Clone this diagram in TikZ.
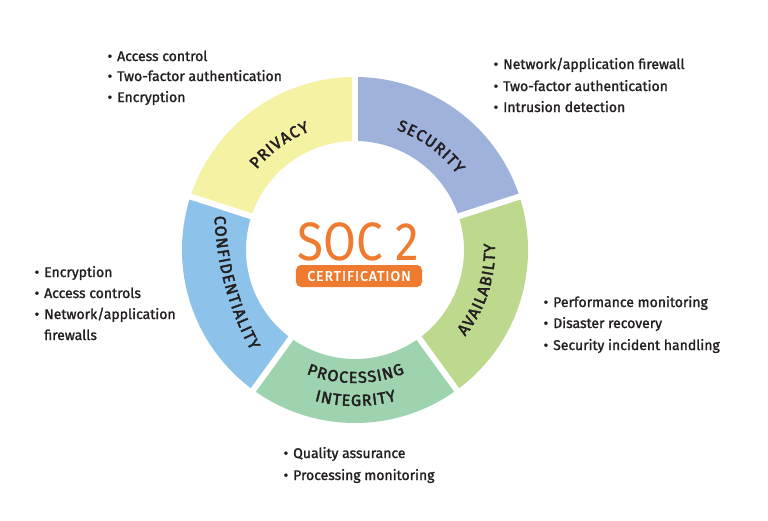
\documentclass[tikz,border=0pt]{standalone}
\usepackage{fontspec}
\setmainfont{Fira Sans}
\newfontfamily\bodyf{Fira Sans}[RawFeature={embolden=1.5}]
\newfontfamily\lblf{Fira Sans}[RawFeature={embolden=2.5}]
\newfontfamily\certf{Fira Sans}[RawFeature={embolden=2},LetterSpace=7]
\usetikzlibrary{decorations.text}
\definecolor{cpriv}{RGB}{246,242,164}
\definecolor{csec}{RGB}{159,178,220}
\definecolor{cavail}{RGB}{188,217,142}
\definecolor{cproc}{RGB}{157,211,175}
\definecolor{cconf}{RGB}{141,195,234}
\definecolor{corange}{RGB}{238,123,47}
\definecolor{ctxt}{RGB}{35,31,32}
\newcommand{\itemfont}{\bodyf\fontsize{14}{16}\selectfont}
\newcommand{\lblfont}{\lblf\fontsize{16}{18}\selectfont}
\newcommand{\bul}{\llap{\textbullet\hspace{5pt}}}
\tikzset{
  bitem/.style={anchor=base west, inner sep=0pt, font=\itemfont, text=ctxt},
  gapline/.style={draw=white, line width=6pt},
  lbl/.style={decorate, decoration={text along path, text align=center, text={|\color{ctxt}\lblfont\kern1.1pt|#1}}}
}
\begin{document}
\begin{tikzpicture}[x=1pt,y=1pt]
\useasboundingbox[fill=white] (-355,-270) rectangle (413,250);
\def\Ro{173}\def\Ri{109}
% segments
\fill[csec] (90:\Ro) arc[start angle=90,end angle=18,radius=\Ro] -- (18:\Ri) arc[start angle=18,end angle=90,radius=\Ri] -- cycle;
\fill[cavail] (18:\Ro) arc[start angle=18,end angle=-54,radius=\Ro] -- (-54:\Ri) arc[start angle=-54,end angle=18,radius=\Ri] -- cycle;
\fill[cproc] (-54:\Ro) arc[start angle=-54,end angle=-126,radius=\Ro] -- (-126:\Ri) arc[start angle=-126,end angle=-54,radius=\Ri] -- cycle;
\fill[cconf] (-126:\Ro) arc[start angle=-126,end angle=-198,radius=\Ro] -- (-198:\Ri) arc[start angle=-198,end angle=-126,radius=\Ri] -- cycle;
\fill[cpriv] (162:\Ro) arc[start angle=162,end angle=90,radius=\Ro] -- (90:\Ri) arc[start angle=90,end angle=162,radius=\Ri] -- cycle;
% gaps
\foreach \a in {90,18,-54,-126,162}{
  \draw[gapline] (\a:\Ri-4) -- (\a:\Ro+4);
}
% segment labels
\path[lbl=PRIVACY] (156:127) arc[start angle=156,end angle=96,radius=127];
\path[lbl=SECURITY] (84:127) arc[start angle=84,end angle=24,radius=127];
\path[lbl=AVAILABILTY] (-58:140) arc[start angle=-58,end angle=22,radius=140];
\path[lbl=CONFIDENTIALITY, shift={(15:165)}] (165:300) arc[start angle=165,end angle=225,radius=300];
\path[lbl=PROCESSING] (-135:133) arc[start angle=-135,end angle=-45,radius=133];
\path[lbl=INTEGRITY] (-130:156) arc[start angle=-130,end angle=-50,radius=156];
% center
\node[inner sep=0pt, text=corange, font=\fontsize{54}{60}\selectfont] (soc) at (3,8) {\scalebox{0.88}[1]{SOC 2}};
\node[fill=corange, rounded corners=5pt, minimum width=126pt, minimum height=22pt, inner sep=0pt, text=white, font=\certf\fontsize{14}{16}\selectfont] (cert) at (4,-26) {CERTIFICATION};
% privacy list
\node[bitem] (p1) at (-238,189) {\bul Access control};
\node[bitem] (p2) at (-238,169) {\bul Two-factor authentication};
\node[bitem] (p3) at (-238,148) {\bul Encryption};
% security list
\node[bitem] (s1) at (148,181) {\bul Network/application firewall};
\node[bitem] (s2) at (148,159) {\bul Two-factor authentication};
\node[bitem] (s3) at (148,138) {\bul Intrusion detection};
% confidentiality list
\node[bitem] (c1) at (-311,-27) {\bul Encryption};
\node[bitem] (c2) at (-311,-48) {\bul Access controls};
\node[bitem] (c3) at (-311,-69) {\bul Network/application};
\node[bitem] (c4) at (-311,-90) {firewalls};
% availability list
\node[bitem] (a1) at (198,-57) {\bul Performance monitoring};
\node[bitem] (a2) at (198,-78) {\bul Disaster recovery};
\node[bitem] (a3) at (198,-100) {\bul Security incident handling};
% processing list
\node[bitem] (r1) at (-62,-208) {\bul Quality assurance};
\node[bitem] (r2) at (-62,-230) {\bul Processing monitoring};
\end{tikzpicture}
\end{document}
